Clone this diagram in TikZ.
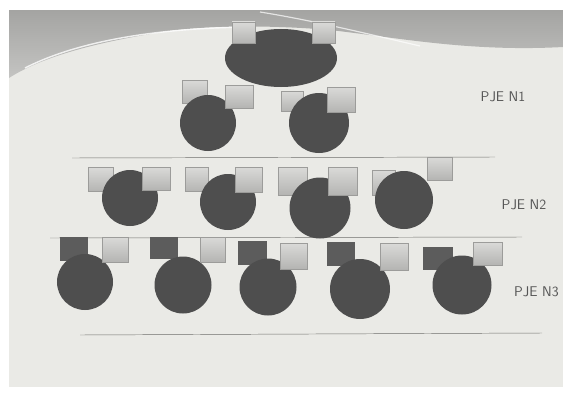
\documentclass[tikz,border=0pt]{standalone}
\usetikzlibrary{positioning, shapes.geometric}
\definecolor{paper}{HTML}{EAEAE6}
\definecolor{band}{HTML}{A4A4A2}
\definecolor{bandlow}{HTML}{C4C4C2}
\definecolor{disc}{HTML}{4E4E4E}
\definecolor{tilelight}{HTML}{DADAD8}
\definecolor{tiledark}{HTML}{B4B4B2}
\definecolor{tileedge}{HTML}{9C9C9A}
\definecolor{ink}{HTML}{555555}
\definecolor{rulegray}{HTML}{6E6E6C}

\begin{document}
\begin{tikzpicture}[
    x=0.03cm, y=-0.03cm,
    disc/.style={
        circle, fill=disc, inner sep=0pt, minimum size=#1
    },
    tile/.style={
        draw=tileedge, thin, top color=tilelight, bottom color=tiledark,
        inner sep=0pt, minimum width=0.78cm, minimum height=0.72cm
    },
    darktile/.style={
        fill=disc!92!white, inner sep=0pt,
        minimum width=0.86cm, minimum height=0.72cm
    },
    rule/.style={draw=rulegray, thin},
    level/.style={font=\sffamily\fontsize{12}{13}\selectfont, text=ink}
]

\useasboundingbox (0,0) rectangle (563,393);
\clip (0,0) rectangle (563,393);

% === Page and top band ===
\fill[white] (0,0) rectangle (563,393);
\fill[paper] (9,10) rectangle (563,387);
\shade[top color=band, bottom color=bandlow] (9,10) -- (563,10) -- (563,47)
    .. controls (470,52) and (400,38) .. (330,30)
    .. controls (260,24) and (190,26) .. (150,34)
    .. controls (90,44) and (40,58) .. (9,78) -- cycle;
\draw[white, line width=1.2pt, opacity=0.8]
    (25,68) .. controls (80,40) and (160,28) .. (250,27);
\draw[white, line width=1pt, opacity=0.7]
    (260,12) .. controls (310,20) and (360,32) .. (420,46);

% === Separating rules ===
\coordinate (r1a) at (72,158);  \coordinate (r1b) at (495,157);
\coordinate (r2a) at (50,238);  \coordinate (r2b) at (522,237);
\coordinate (r3a) at (80,335);  \coordinate (r3b) at (542,333);
\draw[rule] (r1a) -- (r1b);
\draw[rule] (r2a) -- (r2b);
\draw[rule] (r3a) -- (r3b);

% === Top ===
\node[ellipse, fill=disc, inner sep=0pt,
      minimum width=3.36cm, minimum height=1.74cm] (top) at (281,58) {};
\node[tile, minimum width=0.69cm, minimum height=0.63cm] (topL) at (243.5,32.5) {};
\node[tile, minimum width=0.69cm, minimum height=0.63cm] (topR) at (323.5,32.5) {};

% === Level 1 ===
\node[tile, minimum width=0.75cm, minimum height=0.69cm] (a1L) at (194.5,91.5) {};
\node[disc=1.68cm] (a1) at (208,123) {};
\node[tile, minimum width=0.84cm, minimum height=0.69cm] (a1R) at (239,96.5) {};

\node[tile, minimum width=0.66cm, minimum height=0.6cm] (a2L) at (292.5,101) {};
\node[disc=1.8cm] (a2) at (319,123) {};
\node[tile, minimum width=0.84cm, minimum height=0.75cm] (a2R) at (341,99.5) {};

\node[level] (n1) at (503,97) {PJE N1};

% === Level 2 ===
\node[tile, minimum width=0.75cm] (b1L) at (100.5,179.5) {};
\node[disc=1.68cm] (b1) at (130,198) {};
\node[tile, minimum width=0.84cm, minimum height=0.69cm] (b1R) at (156,178.5) {};

\node[tile, minimum width=0.69cm] (b2L) at (196.5,179.5) {};
\node[disc=1.68cm] (b2) at (228,202) {};
\node[tile, minimum width=0.81cm, minimum height=0.75cm] (b2R) at (248.5,179.5) {};

\node[tile, minimum width=0.87cm, minimum height=0.84cm] (b3L) at (292.5,181) {};
\node[disc=1.83cm] (b3) at (320,208) {};
\node[tile, minimum width=0.87cm, minimum height=0.84cm] (b3R) at (342.5,181) {};

\node[tile, minimum width=0.69cm, minimum height=0.75cm] (b4L) at (383.5,182.5) {};
\node[disc=1.74cm] (b4) at (404,200) {};
\node[tile, minimum width=0.75cm, minimum height=0.69cm] (b4R) at (439.5,168.5) {};

\node[level] (n2) at (524,205) {PJE N2};

% === Level 3 ===
\node[darktile] (c1L) at (74,249) {};
\node[disc=1.68cm] (c1) at (85,282) {};
\node[tile, minimum width=0.78cm, minimum height=0.75cm] (c1R) at (115,249.5) {};

\node[darktile, minimum height=0.66cm] (c2L) at (164,248) {};
\node[disc=1.71cm] (c2) at (183,285) {};
\node[tile, minimum width=0.75cm, minimum height=0.75cm] (c2R) at (212.5,249.5) {};

\node[darktile] (c3L) at (252.5,253) {};
\node[disc=1.71cm] (c3) at (268,287) {};
\node[tile, minimum width=0.81cm, minimum height=0.78cm] (c3R) at (293.5,256) {};

\node[darktile] (c4L) at (341,254) {};
\node[disc=1.8cm] (c4) at (360,289) {};
\node[tile, minimum width=0.84cm, minimum height=0.81cm] (c4R) at (394,256.5) {};

\node[darktile, minimum width=0.9cm, minimum height=0.69cm] (c5L) at (438,258.5) {};
\node[disc=1.77cm] (c5) at (462,285) {};
\node[tile, minimum width=0.87cm, minimum height=0.69cm] (c5R) at (487.5,253.5) {};

\node[level, anchor=west] (n3) at (510,292) {PJE N3};

\end{tikzpicture}
\end{document}
